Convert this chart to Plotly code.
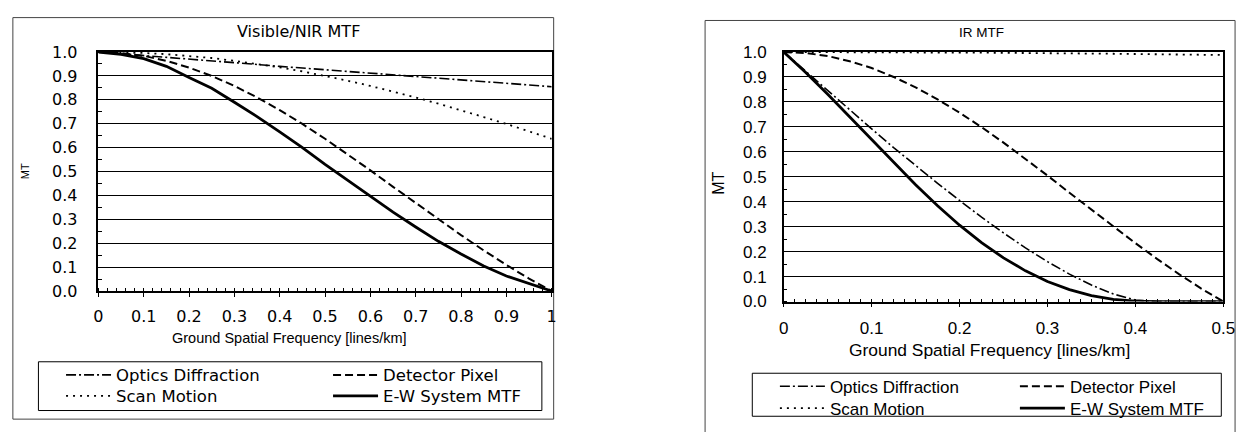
import plotly.graph_objects as go

# ---------------- data ----------------
vis_freq = [0.0, 0.05, 0.1, 0.15, 0.2, 0.25, 0.3, 0.35, 0.4, 0.45, 0.5,
            0.55, 0.6, 0.65, 0.7, 0.75, 0.8, 0.85, 0.9, 0.95, 1.0]
vis_optics = [1.0, 0.993, 0.985, 0.978, 0.970, 0.963, 0.955, 0.948, 0.940, 0.933, 0.925,
              0.918, 0.910, 0.903, 0.897, 0.890, 0.882, 0.875, 0.868, 0.861, 0.855]
vis_detector = [1.0, 0.996, 0.984, 0.963, 0.935, 0.900, 0.858, 0.810, 0.757, 0.699, 0.637,
                0.572, 0.505, 0.436, 0.368, 0.300, 0.234, 0.170, 0.109, 0.052, 0.0]
vis_scan = [1.0, 0.999, 0.996, 0.991, 0.984, 0.975, 0.963, 0.950, 0.936, 0.919, 0.900,
            0.880, 0.858, 0.835, 0.810, 0.784, 0.757, 0.728, 0.699, 0.668, 0.637]
vis_system = [1.0, 0.990, 0.972, 0.940, 0.893, 0.848, 0.790, 0.730, 0.666, 0.600, 0.530,
              0.463, 0.396, 0.330, 0.268, 0.208, 0.155, 0.105, 0.063, 0.030, 0.0]

ir_freq = [0.0, 0.025, 0.05, 0.075, 0.1, 0.125, 0.15, 0.175, 0.2, 0.225, 0.25,
           0.275, 0.3, 0.325, 0.35, 0.375, 0.4, 0.425, 0.45, 0.475, 0.5]
ir_optics = [1.0, 0.922, 0.845, 0.768, 0.692, 0.617, 0.545, 0.474, 0.405, 0.338, 0.275,
             0.215, 0.160, 0.110, 0.066, 0.030, 0.006, 0.0, 0.0, 0.0, 0.0]
ir_detector = [1.0, 0.996, 0.984, 0.963, 0.936, 0.900, 0.858, 0.810, 0.757, 0.699, 0.637,
               0.572, 0.505, 0.436, 0.368, 0.300, 0.234, 0.170, 0.109, 0.052, 0.0]
ir_scan = [1.0, 1.0, 1.0, 1.0, 0.999, 0.999, 0.999, 0.998, 0.998, 0.998, 0.997,
           0.996, 0.996, 0.995, 0.994, 0.993, 0.992, 0.991, 0.990, 0.989, 0.988]
ir_system = [1.0, 0.918, 0.831, 0.740, 0.648, 0.556, 0.468, 0.384, 0.306, 0.236, 0.175,
             0.123, 0.080, 0.048, 0.024, 0.009, 0.002, 0.0, 0.0, 0.0, 0.0]

series_names = ["Optics Diffraction", "Detector Pixel", "Scan Motion", "E-W System MTF"]
y_ticks = [0.0, 0.1, 0.2, 0.3, 0.4, 0.5, 0.6, 0.7, 0.8, 0.9, 1.0]
chart_titles = ["Visible/NIR MTF", "IR MTF"]
x_title = "Ground Spatial Frequency [lines/km]"
y_title = "MT"

# ---------------- layout helpers ----------------
W, H = 1255, 432
def px(x):
    return x / W
def py(y):
    return 1 - y / H

styles = {
    "Optics Diffraction": dict(color="black", width=1.6, dash="10px,3px,2px,3px"),
    "Detector Pixel": dict(color="black", width=2.0, dash="8px,4px"),
    "Scan Motion": dict(color="black", width=1.8, dash="2px,5px"),
    "E-W System MTF": dict(color="black", width=2.8),
}

LEFT_FONT = "DejaVu Sans"
RIGHT_FONT = "Liberation Sans, Arial"

fig = go.Figure()

vis_series = [vis_optics, vis_detector, vis_scan, vis_system]
ir_series = [ir_optics, ir_detector, ir_scan, ir_system]
left_legends = ["legend", "legend", "legend2", "legend2"]
right_legends = ["legend3", "legend3", "legend4", "legend4"]

for name, ys, lg in zip(series_names, vis_series, left_legends):
    fig.add_trace(go.Scatter(x=vis_freq, y=ys, mode="lines", name=name,
                             line=styles[name], xaxis="x", yaxis="y",
                             legend=lg, hoverinfo="skip"))
for name, ys, lg in zip(series_names, ir_series, right_legends):
    fig.add_trace(go.Scatter(x=ir_freq, y=ys, mode="lines", name=name,
                             line=styles[name], xaxis="x2", yaxis="y2",
                             legend=lg, hoverinfo="skip"))

def xaxis_cfg(dom, rng, dtick, minor_dtick, font):
    return dict(domain=dom, range=rng, dtick=dtick, tick0=0,
                showgrid=False, zeroline=False,
                showline=True, linecolor="black", linewidth=1.5, mirror=True,
                ticks="outside", ticklen=4, tickwidth=1, tickcolor="black",
                minor=dict(ticks="inside", ticklen=3, dtick=minor_dtick, tickcolor="black", showgrid=False),
                tickfont=font, ticklabelstandoff=6)

def yaxis_cfg(dom, anchor, font, standoff):
    return dict(domain=dom, range=[0, 1], tickvals=y_ticks,
                ticktext=[f"{v:.1f}" for v in y_ticks], anchor=anchor,
                showgrid=True, gridcolor="black", gridwidth=1, zeroline=False,
                showline=True, linecolor="black", linewidth=1.5, mirror=True,
                ticks="", minor=dict(ticks="inside", ticklen=4, dtick=0.05, tickcolor="black"),
                tickfont=font, ticklabelstandoff=standoff)

left_tick_font = dict(family=LEFT_FONT, size=16, color="black")
right_tick_font = dict(family=RIGHT_FONT, size=17, color="black")

fig.update_layout(
    width=W, height=H, margin=dict(l=0, r=0, t=0, b=0),
    paper_bgcolor="white", plot_bgcolor="white",
    xaxis=dict(**xaxis_cfg([px(95), px(556)], [0, 1], 0.1, 0.02, left_tick_font), anchor="y"),
    yaxis=yaxis_cfg([py(295), py(45)], "x", left_tick_font, 16),
    xaxis2=dict(**xaxis_cfg([px(792), px(1239)], [0, 0.5], 0.1, 0.0125, right_tick_font), anchor="y2"),
    yaxis2=yaxis_cfg([py(306), py(45)], "x2", right_tick_font, 12),
    showlegend=True,
)

def legend_cfg(x, y, font, entrywidth):
    return dict(orientation="h", x=px(x), y=py(y), xanchor="left", yanchor="middle",
                xref="paper", yref="paper", bgcolor="rgba(0,0,0,0)", borderwidth=0,
                font=font, entrywidth=entrywidth, entrywidthmode="pixels",
                itemwidth=45, traceorder="normal", itemclick=False, itemdoubleclick=False)

left_leg_font = dict(family=LEFT_FONT, size=16.5, color="black")
right_leg_font = dict(family=RIGHT_FONT, size=17, color="black")
fig.update_layout(
    legend=legend_cfg(57, 383, left_leg_font, 207),
    legend2=legend_cfg(57, 405, left_leg_font, 207),
    legend3=legend_cfg(783, 395, right_leg_font, 180),
    legend4=legend_cfg(783, 418, right_leg_font, 180),
)

# frames and legend boxes
fig.add_shape(type="rect", xref="paper", yref="paper", x0=px(8), x1=px(558), y0=py(429), y1=py(9),
              line=dict(color="#444", width=1), layer="below")
fig.add_shape(type="rect", xref="paper", yref="paper", x0=px(712), x1=px(1251), y0=py(445), y1=py(12),
              line=dict(color="#444", width=1), layer="below")
fig.add_shape(type="rect", xref="paper", yref="paper", x0=px(34), x1=px(546), y0=py(420), y1=py(369),
              line=dict(color="black", width=1), layer="below")
fig.add_shape(type="rect", xref="paper", yref="paper", x0=px(760), x1=px(1237), y0=py(426), y1=py(381),
              line=dict(color="black", width=1), layer="below")

def ann(text, x, y, font, angle=0):
    fig.add_annotation(text=text, x=px(x), y=py(y), xref="paper", yref="paper",
                       xanchor="center", yanchor="middle", showarrow=False,
                       font=font, textangle=angle)

ann(chart_titles[0], 298, 24, dict(family=LEFT_FONT, size=16, color="black"))
ann(chart_titles[1], 993, 25, dict(family=RIGHT_FONT, size=13.5, color="black"))
ann(x_title, 289, 344, dict(family=RIGHT_FONT, size=14.5, color="black"))
ann(x_title, 1001, 357, dict(family=RIGHT_FONT, size=17.4, color="black"))
ann(y_title, 20, 170, dict(family=RIGHT_FONT, size=11, color="black"), -90)
ann(y_title, 726, 182, dict(family=RIGHT_FONT, size=16, color="black"), -90)

fig.write_html(
    "out.html",
    config={"displayModeBar": False},
    post_script="document.body.style.margin='0px';document.body.style.overflow='hidden';",
)
